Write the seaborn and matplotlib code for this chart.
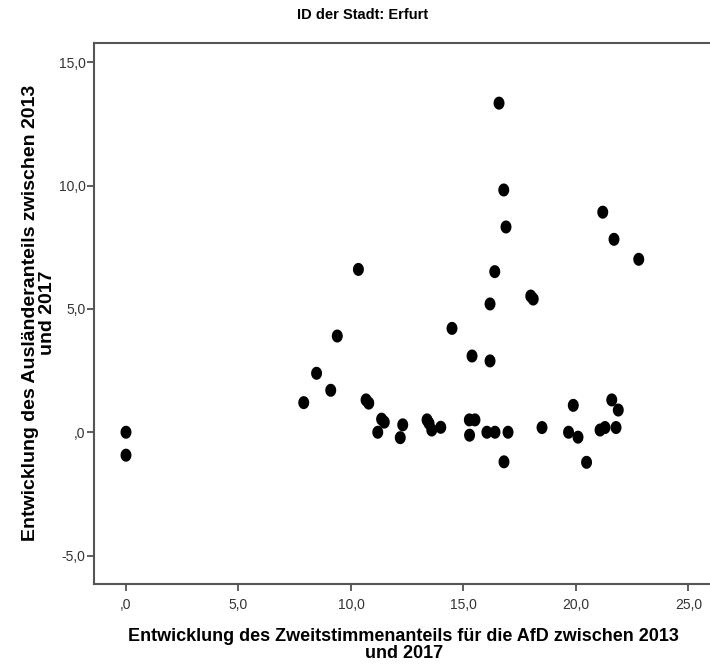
import numpy as np
import pandas as pd
import matplotlib
matplotlib.use("Agg")
import matplotlib.pyplot as plt
from matplotlib.path import Path
from matplotlib.ticker import FixedLocator, FuncFormatter
import seaborn as sns

afd_change = [0.0, 0.0, 7.9, 8.47, 9.1, 9.39, 10.33, 10.67, 10.79, 11.19, 11.36, 11.48,
              12.19, 12.3, 13.38, 13.47, 13.59, 13.99, 14.49, 15.26, 15.51, 15.27, 15.38,
              16.18, 16.04, 16.4, 16.98, 16.8, 16.58, 16.79, 16.89, 16.39, 16.18, 17.99,
              18.1, 18.49, 19.67, 19.88, 20.09, 20.47, 21.07, 21.19, 21.29, 21.59, 21.69,
              21.78, 21.88, 22.79]
foreign_change = [0.0, -0.93, 1.2, 2.39, 1.7, 3.9, 6.6, 1.31, 1.18, 0.0, 0.53, 0.41,
                  -0.22, 0.3, 0.5, 0.36, 0.09, 0.2, 4.21, 0.5, 0.5, -0.12, 3.09,
                  2.89, 0.0, 0.0, 0.0, -1.2, 13.34, 9.82, 8.32, 6.51, 5.2, 5.52,
                  5.4, 0.19, 0.0, 1.09, -0.2, -1.22, 0.09, 8.92, 0.19, 1.31, 7.82,
                  0.19, 0.9, 7.01]
x_ticks = [0, 5, 10, 15, 20, 25]
y_ticks = [-5, 0, 5, 10, 15]

df = pd.DataFrame({"afd": afd_change, "foreign": foreign_change})

sns.set_style("white")
fam = ["Liberation Sans", "DejaVu Sans"]
plt.rcParams["font.family"] = fam

W, H = 710, 666
fig = plt.figure(figsize=(W / 100, H / 100), dpi=100)
left, right, top, bottom = 94.5, 713, 42.7, 583.7
ax = fig.add_axes([left / W, (H - bottom) / H, (right - left) / W, (bottom - top) / H])

t = np.linspace(0, 2 * np.pi, 60)
ell = Path(np.column_stack([np.cos(t) * 0.84, np.sin(t)]), closed=True)

sns.scatterplot(data=df, x="afd", y="foreign", ax=ax, color="black",
                marker=ell, s=88, edgecolor="none", linewidth=0)

ax.set_xlim(-1.4, 26.09)
ax.set_ylim(-6.14, 15.79)

def fmt(v, pos):
    s = f"{v:.1f}".replace(".", ",")
    if s.startswith("0,"):
        s = s[1:]
    return s

ax.xaxis.set_major_locator(FixedLocator(x_ticks))
ax.yaxis.set_major_locator(FixedLocator(y_ticks))
ax.xaxis.set_major_formatter(FuncFormatter(fmt))
ax.yaxis.set_major_formatter(FuncFormatter(fmt))
ax.tick_params(axis="both", direction="out", length=5, width=1.2, color="#444444",
               labelsize=10, labelcolor="#333333", bottom=True, left=True)
ax.tick_params(axis="x", pad=5)
ax.tick_params(axis="y", pad=1.5)
for sp in ax.spines.values():
    sp.set_color("#555555")
    sp.set_linewidth(1.5)

ax.set_xlabel("Entwicklung des Zweitstimmenanteils für die AfD zwischen 2013\nund 2017",
              fontsize=13, fontweight="bold", color="black", labelpad=12,
              linespacing=1.0)
ax.set_ylabel("Entwicklung des Ausländeranteils zwischen 2013\nund 2017",
              fontsize=14, fontweight="bold", color="black", labelpad=2,
              linespacing=0.95)

fig.text(363 / W, 1 - 15 / H, "ID der Stadt: Erfurt", ha="center", va="center",
         fontsize=10.5, fontweight="bold", color="black")

fig.savefig("out.png", dpi=100)
